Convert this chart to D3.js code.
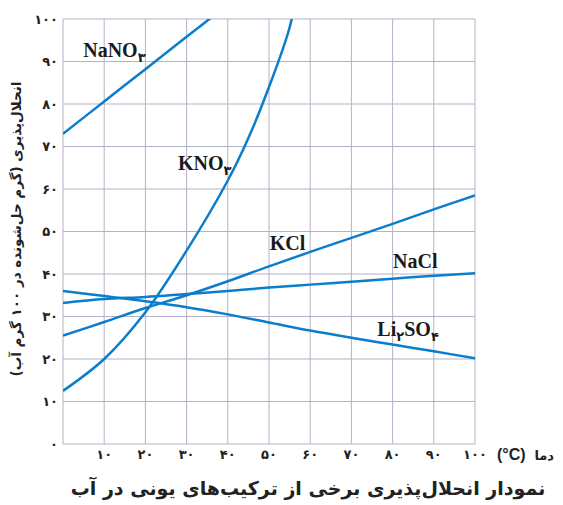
<!DOCTYPE html>
<html>
<head>
<meta charset="utf-8">
<script src="https://cdn.jsdelivr.net/npm/d3@7"></script>
<style>
  body { margin: 0; background: #fff; }
  svg { display: block; }
</style>
</head>
<body>
<div id="chart"></div>
<script>
// temperatures (°C) and solubilities (g per 100 g water)
var temps = [0, 10, 20, 30, 40, 50, 60, 70, 80, 90, 100];
var nano3T = [0, 10, 20, 30, 40];
var nano3 = [73, 80.6, 88.2, 95.8, 103.4];
var kno3T = [0, 10, 20, 30, 40, 45, 50, 55, 57];
var kno3 = [12.5, 20, 31, 45.5, 62, 72, 84, 98, 108];
var kcl = [25.5, 28.7, 32, 35, 38.3, 41.8, 45.2, 48.5, 51.8, 55.2, 58.5];
var nacl = [33.2, 34.1, 34.6, 35.3, 36, 36.8, 37.5, 38.2, 38.9, 39.6, 40.2];
var li2so4 = [36, 34.8, 33.6, 32.2, 30.5, 28.6, 26.7, 25, 23.4, 21.8, 20.2];

var xTicks = [10, 20, 30, 40, 50, 60, 70, 80, 90, 100];
var yTicks = [0, 10, 20, 30, 40, 50, 60, 70, 80, 90, 100];
var xTickLabels = ['۱۰', '۲۰', '۳۰', '۴۰', '۵۰', '۶۰', '۷۰', '۸۰', '۹۰', '۱۰۰'];
var yTickLabels = ['۰', '۱۰', '۲۰', '۳۰', '۴۰', '۵۰', '۶۰', '۷۰', '۸۰', '۹۰', '۱۰۰'];

var width = 563, height = 505;
var margin = { top: 19, right: 88, bottom: 61, left: 63 };

var svg = d3.select('#chart').append('svg')
    .attr('width', width)
    .attr('height', height);

var x = d3.scaleLinear().domain([0, 100]).range([margin.left, width - margin.right]);
var y = d3.scaleLinear().domain([0, 100]).range([height - margin.bottom, margin.top]);

var gridColor = '#b4b2c6';

// grid
svg.append('g').selectAll('line')
    .data(yTicks)
    .enter().append('line')
    .attr('x1', x(0)).attr('x2', x(100))
    .attr('y1', function(d) { return y(d); })
    .attr('y2', function(d) { return y(d); })
    .attr('stroke', gridColor)
    .attr('stroke-width', 1);

svg.append('g').selectAll('line')
    .data([0].concat(xTicks))
    .enter().append('line')
    .attr('y1', y(0)).attr('y2', y(100))
    .attr('x1', function(d) { return x(d); })
    .attr('x2', function(d) { return x(d); })
    .attr('stroke', gridColor)
    .attr('stroke-width', 1);

// tick labels
var persian = '"DejaVu Sans", sans-serif';

svg.append('g').selectAll('text')
    .data(yTicks)
    .enter().append('text')
    .attr('x', margin.left - 5)
    .attr('y', function(d) { return y(d); })
    .attr('dy', '0.35em')
    .attr('text-anchor', 'end')
    .style('font-family', persian)
    .style('font-weight', 'bold')
    .style('font-size', '13px')
    .style('fill', '#222')
    .text(function(d, i) { return yTickLabels[i]; });

svg.append('g').selectAll('text')
    .data(xTicks)
    .enter().append('text')
    .attr('x', function(d) { return x(d); })
    .attr('y', y(0) + 15)
    .attr('text-anchor', 'middle')
    .style('font-family', persian)
    .style('font-weight', 'bold')
    .style('font-size', '13px')
    .style('fill', '#222')
    .text(function(d, i) { return xTickLabels[i]; });

svg.append('text')
    .attr('x', 497)
    .attr('y', y(0) + 16)
    .style('font-family', '"Liberation Sans", sans-serif')
    .style('font-weight', 'bold')
    .style('font-size', '16px')
    .style('fill', '#222')
    .text('(°C)');

svg.append('text')
    .attr('x', 554)
    .attr('y', y(0) + 16)
    .attr('text-anchor', 'end')
    .style('font-family', persian)
    .style('font-weight', 'bold')
    .style('font-size', '13px')
    .style('fill', '#222')
    .text('دما');

// titles
svg.append('text')
    .attr('x', 308)
    .attr('y', 495)
    .attr('text-anchor', 'middle')
    .style('font-family', persian)
    .style('font-weight', 'bold')
    .style('font-size', '19px')
    .style('fill', '#222')
    .text('نمودار انحلال‌پذیری برخی از ترکیب‌های یونی در آب');

svg.append('text')
    .attr('transform', 'translate(21,229) rotate(-90)')
    .attr('text-anchor', 'middle')
    .style('font-family', persian)
    .style('font-weight', 'bold')
    .style('font-size', '13.5px')
    .style('fill', '#222')
    .text('انحلال‌پذیری (گرم حل‌شونده در ۱۰۰ گرم آب)');

// curves
svg.append('clipPath').attr('id', 'plot-clip')
    .append('rect')
    .attr('x', x(0)).attr('y', y(100))
    .attr('width', x(100) - x(0))
    .attr('height', y(0) - y(100));

var line = d3.line()
    .x(function(d) { return x(d[0]); })
    .y(function(d) { return y(d[1]); })
    .curve(d3.curveCatmullRom.alpha(0.5));

var series = [
    d3.zip(nano3T, nano3),
    d3.zip(kno3T, kno3),
    d3.zip(temps, kcl),
    d3.zip(temps, nacl),
    d3.zip(temps, li2so4)
];

svg.append('g')
    .attr('clip-path', 'url(#plot-clip)')
    .selectAll('path')
    .data(series)
    .enter().append('path')
    .attr('d', line)
    .attr('fill', 'none')
    .attr('stroke', '#0a7dcc')
    .attr('stroke-width', 2.5);

// series labels: alternating text / subscript, anchored in data units
var labels = [
    { parts: ['NaNO', '۳'], t: 4.9, s: 91 },
    { parts: ['KNO', '۳'], t: 27.9, s: 64.5 },
    { parts: ['KCl'], t: 50.2, s: 45.6 },
    { parts: ['NaCl'], t: 80.1, s: 41.4 },
    { parts: ['Li', '۲', 'SO', '۴'], t: 76.3, s: 25.3 }
];

var lab = svg.append('g').selectAll('text')
    .data(labels)
    .enter().append('text')
    .attr('x', function(d) { return x(d.t); })
    .attr('y', function(d) { return y(d.s); })
    .style('font-family', '"Liberation Serif", serif')
    .style('font-weight', 'bold')
    .style('font-size', '20px')
    .style('fill', '#1a1a1a');

lab.each(function(d) {
    var el = d3.select(this);
    d.parts.forEach(function(p, i) {
        var sub = i % 2 === 1;
        el.append('tspan')
            .attr('dy', sub ? 5 : (i > 0 ? -5 : 0))
            .style('font-size', sub ? '13px' : '20px')
            .style('font-family', sub ? persian : null)
            .text(p);
    });
});
</script>
</body>
</html>
